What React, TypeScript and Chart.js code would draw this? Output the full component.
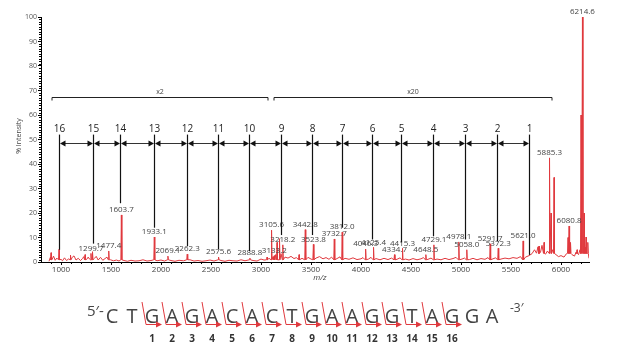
import React, { useEffect, useRef } from "react";
import { Chart, registerables } from "chart.js";

Chart.register(...registerables);

const FONT = "'Open Sans', 'Noto Sans', sans-serif";

// Spectrum: background noise (m/z, % intensity)
const noise: [number, number][] = [
  [880,0.3],[893,1.8],[910,0.9],[925,2.4],[942,0.7],[958,1.6],[1000,1.1],[1015,0.5],[1035,1.7],[1055,0.6],
  [1078,1.3],[1112,1.9],[1130,2.5],[1150,0.8],[1172,1.5],[1195,0.6],[1215,1.4],[1228,2.2],[1255,1.0],[1272,2.0],
  [1285,1.2],[1335,1.5],[1352,2.3],[1372,0.8],[1395,1.9],[1418,0.7],[1440,1.4],[1460,2.0],[1495,0.9],[1525,0.5],
  [1555,0.8],[1580,0.4],[1630,0.6],[1665,0.3],[1700,0.7],[1740,0.4],[1780,0.5],[1820,0.9],[1860,0.4],[1900,0.6],
  [1960,0.5],[2000,0.8],[2035,0.4],[2100,0.6],[2140,0.3],[2180,0.7],[2225,0.5],[2290,0.9],[2330,0.4],[2370,0.6],
  [2410,0.3],[2450,0.5],[2490,0.8],[2530,0.4],[2600,0.6],[2640,0.3],[2680,0.7],[2720,0.5],[2760,0.4],[2800,0.9],
  [2840,0.5],[2920,0.6],[2960,0.4],[3000,1.2],[3030,0.8],[3080,1.5],[3120,2.2],[3145,3.0],[3200,3.4],[3240,2.0],
  [3270,1.6],[3300,2.3],[3330,1.4],[3355,1.8],[3410,1.5],[3470,1.9],[3500,1.2],[3550,1.6],[3585,2.2],[3620,1.3],
  [3650,1.8],[3680,1.1],[3705,2.0],[3760,1.4],[3790,2.1],[3840,1.5],[3880,1.1],[3920,1.7],[3960,1.0],[4000,1.3],
  [4020,1.8],[4075,1.2],[4100,1.9],[4150,1.4],[4190,0.9],[4230,1.5],[4270,1.0],[4305,1.6],[4360,1.1],[4390,1.7],
  [4445,1.2],[4480,0.8],[4520,1.4],[4560,0.9],[4600,1.3],[4625,1.8],[4670,1.1],[4700,1.6],[4760,1.2],[4800,0.9],
  [4840,1.5],[4880,1.0],[4920,1.4],[4950,1.9],[5010,1.2],[5035,1.6],[5085,1.0],[5120,1.5],[5160,0.9],[5200,1.4],
  [5240,1.1],[5270,1.8],[5320,1.3],[5345,1.7],[5400,1.2],[5440,1.6],[5480,1.3],[5520,1.8],[5560,1.5],[5595,2.2],
  [5645,2.0],[5680,2.6],[5710,3.4],[5735,5.0],[5755,3.6],[5770,6.2],[5795,4.0],[5810,6.8],[5845,3.2],[5865,4.5],
  [5915,5.0],[5950,3.0],[5975,2.2],[6000,2.6],[6030,2.0],[6055,3.4],[6110,3.0],[6135,2.4],[6150,4.0],[6175,3.0],
  [6190,5.0],[6240,6.0],[6280,1.5],
];

// Spectrum: peaks (m/z, % intensity)
const peaks: [number, number][] = [
  [900,3.8],[980,5.2],[1095,2.8],[1240,3.0],[1299.7,3.5],[1315,4.2],[1477.4,4.5],[1603.7,19.2],[1933.1,10.2],
  [2069.1,2.4],[2262.3,3.2],[2575.6,2.0],[2888.8,1.6],[3060,2.0],[3105.6,13.0],[3133.2,2.6],[3160,8.0],[3185,9.5],
  [3218.2,7.0],[3380,3.0],[3442.8,13.2],[3523.8,7.2],[3732.7,9.4],[3812.0,12.2],[4046.3,5.3],[4125.4,6.0],
  [4334.7,3.0],[4415.3,5.6],[4648.5,3.0],[4729.1,7.0],[4978.1,8.2],[5058.0,5.0],[5291.7,7.4],[5372.3,5.6],
  [5621.0,8.6],[5780,6.5],[5830,8.0],[5885.3,42.5],[5900,20],[5930,34.5],[6070,10],[6080.8,14.7],[6095,8],
  [6160,5],[6200,60],[6214.6,100],[6230,20],[6250,10.2],[6268,8],
];

// Labelled peaks
const peakLabels = [
  "1299.7","1477.4","1603.7","1933.1","2069.1","2262.3","2575.6","2888.8","3105.6","3133.2","3218.2",
  "3442.8","3523.8","3732.7","3812.0","4046.3","4125.4","4334.7","4415.3","4648.5","4729.1","4978.1",
  "5058.0","5291.7","5372.3","5621.0","5885.3","6080.8","6214.6",
];

// Fragment markers 16..1
const fragLabels = ["16","15","14","13","12","11","10","9","8","7","6","5","4","3","2","1"];
const fragMz = [980,1320,1590,1930,2260,2570,2880,3200,3510,3810,4110,4400,4715,5035,5360,5680];
const fragBottom = [5,7.5,24,14,6.5,5.3,4.5,11,11,14,9.2,8,10.5,9.2,8.5,2.9];

// Scale brackets
const bracketLabels = ["x2", "x20"];
const bracketStart = [910, 3130];
const bracketEnd = [3070, 5910];

// Axis ticks
const xTicks = [1000, 1500, 2000, 2500, 3000, 3500, 4000, 4500, 5000, 5500, 6000];
const yTicks = [0, 10, 20, 30, 40, 50, 60, 70, 80, 90, 100];

// Sequence
const seqLetters = ["C","T","G","A","G","A","C","A","C","T","G","A","A","G","G","T","A","G","G","A"];
const seqNumbers = ["1","2","3","4","5","6","7","8","9","10","11","12","13","14","15","16"];

function buildSpectrum() {
  const pts: { x: number; y: number }[] = noise.map(([x, y]) => ({ x, y }));
  peaks.forEach(([mz, h]) => {
    const base = mz > 5700 ? 3.5 : 0.9;
    pts.push({ x: mz - 5, y: base }, { x: mz, y: h }, { x: mz + 5, y: base });
  });
  pts.sort((a, b) => a.x - b.x);
  return pts;
}

const overlay = {
  id: "overlay",
  afterDatasetsDraw(chart: any) {
    const { ctx, chartArea, scales } = chart;
    const xs = scales.x, ys = scales.y;
    const px = (v: number) => xs.getPixelForValue(v);
    const py = (v: number) => ys.getPixelForValue(v);
    ctx.save();

    // minor ticks
    ctx.strokeStyle = "#000";
    ctx.lineWidth = 1;
    ctx.beginPath();
    for (let v = 1; v < 100; v++) {
      if (v % 10 === 0) continue;
      const yy = Math.round(py(v)) + 0.5;
      ctx.moveTo(chartArea.left - 2, yy);
      ctx.lineTo(chartArea.left, yy);
    }
    for (let v = 900; v <= 6200; v += 100) {
      if (v % 500 === 0) continue;
      const xx = Math.round(px(v)) + 0.5;
      ctx.moveTo(xx, chartArea.bottom);
      ctx.lineTo(xx, chartArea.bottom + 2);
    }
    ctx.stroke();

    // peak labels
    ctx.fillStyle = "#444";
    ctx.font = `8px ${FONT}`;
    ctx.textAlign = "center";
    ctx.textBaseline = "bottom";
    peakLabels.forEach((t) => {
      const mz = parseFloat(t);
      const p = peaks.find((q) => Math.abs(q[0] - mz) < 0.01);
      const h = p ? p[1] : 2;
      ctx.fillText(t, px(mz), py(h) - 1);
    });

    // brackets
    ctx.strokeStyle = "#222";
    ctx.lineWidth = 1;
    const by = Math.round(py(67.5)) + 0.5;
    bracketLabels.forEach((lab, i) => {
      const a = px(bracketStart[i]), b = px(bracketEnd[i]);
      ctx.beginPath();
      ctx.moveTo(a, by + 3);
      ctx.lineTo(a, by);
      ctx.lineTo(b, by);
      ctx.lineTo(b, by + 3);
      ctx.stroke();
      ctx.fillStyle = "#444";
      ctx.font = `7px ${FONT}`;
      ctx.textBaseline = "bottom";
      ctx.fillText(lab, (a + b) / 2, by - 2);
    });

    // fragment lines
    const topY = py(52);
    const arrowY = Math.round(py(48.6)) + 0.5;
    ctx.strokeStyle = "#111";
    ctx.lineWidth = 1.2;
    fragMz.forEach((mz, i) => {
      const xx = Math.round(px(mz)) + 0.5;
      ctx.beginPath();
      ctx.moveTo(xx, topY);
      ctx.lineTo(xx, py(fragBottom[i]));
      ctx.stroke();
    });
    ctx.fillStyle = "#222";
    ctx.font = `10px ${FONT}`;
    ctx.textBaseline = "middle";
    fragMz.forEach((mz, i) => {
      ctx.fillText(fragLabels[i], Math.round(px(mz)) + 0.5, py(54.4));
    });
    // arrows
    ctx.strokeStyle = "#333";
    ctx.fillStyle = "#111";
    ctx.lineWidth = 1;
    for (let i = 0; i < fragMz.length - 1; i++) {
      const a = Math.round(px(fragMz[i])) + 0.5;
      const b = Math.round(px(fragMz[i + 1])) + 0.5;
      ctx.beginPath();
      ctx.moveTo(a + 4, arrowY);
      ctx.lineTo(b - 4, arrowY);
      ctx.stroke();
      ctx.beginPath();
      ctx.moveTo(a + 0.5, arrowY);
      ctx.lineTo(a + 6, arrowY - 3);
      ctx.lineTo(a + 6, arrowY + 3);
      ctx.closePath();
      ctx.fill();
      ctx.beginPath();
      ctx.moveTo(b - 0.5, arrowY);
      ctx.lineTo(b - 6, arrowY - 3);
      ctx.lineTo(b - 6, arrowY + 3);
      ctx.closePath();
      ctx.fill();
    }

    // axis titles
    ctx.fillStyle = "#444";
    ctx.font = `italic 8px ${FONT}`;
    ctx.textBaseline = "middle";
    ctx.textAlign = "center";
    ctx.fillText("m/z", (chartArea.left + chartArea.right) / 2 + 5, 278);
    ctx.save();
    ctx.translate(19, 136);
    ctx.rotate(-Math.PI / 2);
    ctx.font = `7px ${FONT}`;
    ctx.fillText("% Intensity", 0, 0);
    ctx.restore();

    // sequence
    const x0 = 112, step = 20, base = 323;
    ctx.fillStyle = "#444";
    ctx.textBaseline = "alphabetic";
    ctx.textAlign = "left";
    ctx.font = `15px ${FONT}`;
    ctx.fillText("5\u2032-", 87, 316);
    ctx.font = `12px ${FONT}`;
    ctx.fillText("-3\u2032", 510, 312);
    ctx.textAlign = "center";
    ctx.font = `20px ${FONT}`;
    seqLetters.forEach((l, i) => ctx.fillText(l, x0 + step * i, base));
    // red cleavage arrows + numbers
    ctx.strokeStyle = "#e0393e";
    ctx.fillStyle = "#e0393e";
    ctx.lineWidth = 1;
    seqNumbers.forEach((n, k) => {
      const cx = x0 + step * (k + 2);
      ctx.beginPath();
      ctx.moveTo(cx - 10, 302);
      ctx.lineTo(cx - 6, 324.5);
      ctx.lineTo(cx + 5, 324.5);
      ctx.stroke();
      ctx.beginPath();
      ctx.moveTo(cx + 10, 324.5);
      ctx.lineTo(cx + 4, 321.5);
      ctx.lineTo(cx + 4, 327.5);
      ctx.closePath();
      ctx.fill();
    });
    ctx.fillStyle = "#333";
    ctx.font = `bold 10px ${FONT}`;
    ctx.textBaseline = "middle";
    seqNumbers.forEach((n, k) => {
      ctx.fillText(n, x0 + step * (k + 2), 339);
    });

    ctx.restore();
  },
};

export default function App() {
  const ref = useRef<HTMLCanvasElement>(null);
  useEffect(() => {
    if (!ref.current) return;
    const chart = new Chart(ref.current, {
      type: "line",
      data: {
        datasets: [
          {
            data: buildSpectrum(),
            borderColor: "#e0393e",
            borderWidth: 1,
            pointRadius: 0,
            tension: 0,
            fill: false,
          },
        ],
      },
      options: {
        animation: false,
        responsive: false,
        layout: { padding: { left: 0, right: 39, top: 17, bottom: 59 } },
        plugins: { legend: { display: false }, tooltip: { enabled: false } },
        scales: {
          x: {
            type: "linear",
            min: 800,
            max: 6280,
            afterBuildTicks: (s: any) => {
              s.ticks = xTicks.map((v) => ({ value: v }));
            },
            afterFit: (s: any) => {
              s.height = 30;
            },
            ticks: {
              font: { size: 8, family: FONT },
              color: "#444",
              padding: 0,
              maxRotation: 0,
              autoSkip: false,
              callback: (v: any) => String(v),
            },
            grid: { drawOnChartArea: false, tickLength: 3, color: "#000" },
            border: { color: "#000" },
          },
          y: {
            type: "linear",
            min: 0,
            max: 100,
            afterBuildTicks: (s: any) => {
              s.ticks = yTicks.map((v) => ({ value: v }));
            },
            afterFit: (s: any) => {
              s.width = 41;
            },
            ticks: { font: { size: 7, family: FONT }, color: "#555", padding: 1, callback: (v: any) => String(v) },
            grid: { drawOnChartArea: false, tickLength: 3, color: "#000" },
            border: { color: "#000" },
          },
        },
      } as any,
      plugins: [overlay],
    });
    return () => chart.destroy();
  }, []);
  return (
    <div style={{ position: "fixed", left: 0, top: 0, width: 628, height: 351, background: "#fff" }}>
      <canvas ref={ref} width={628} height={351} style={{ width: 628, height: 351, display: "block" }} />
    </div>
  );
}
